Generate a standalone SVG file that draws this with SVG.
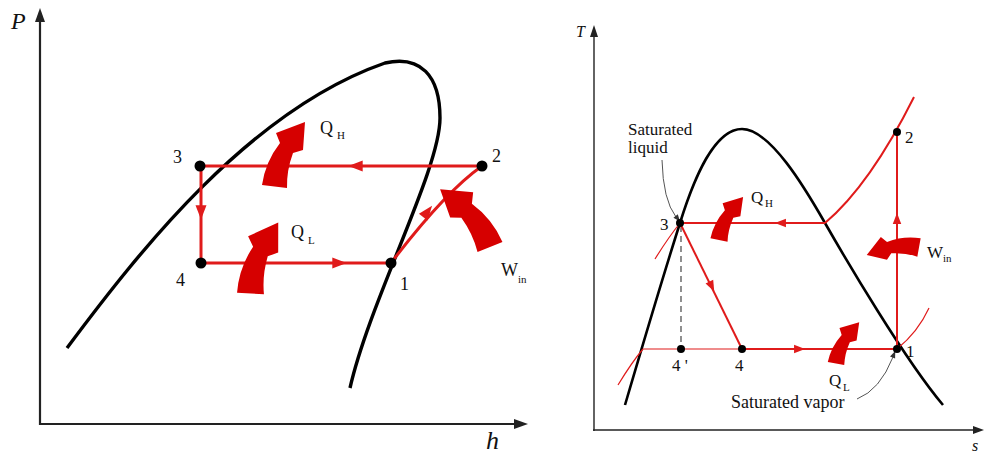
<svg xmlns="http://www.w3.org/2000/svg" xmlns:xlink="http://www.w3.org/1999/xlink" width="984" height="456" viewBox="0 0 984 456">
<style>
text{font-family:"Liberation Serif","Times New Roman",serif;fill:#111}
.ax{stroke:#222;stroke-width:2.2;fill:none}
.axr{stroke:#222;stroke-width:1.4;fill:none}
.dome{stroke:#000;stroke-width:3.4;fill:none}
.domer{stroke:#000;stroke-width:2.6;fill:none}
.cyc{stroke:#e01b1b;stroke-width:3;fill:none}
.cycr{stroke:#e01b1b;stroke-width:2;fill:none}
.thin{stroke:#e01b1b;stroke-width:1.2;fill:none}
.lead{stroke:#555;stroke-width:1;fill:none}
.fat{fill:#d60000}
.ahd{fill:#e01b1b}
.lbl{font-size:18px}
.lblr{font-size:17px}
.sub{font-size:11px}
</style>
<defs>
<path id="fatArrow" d="M -12.5,-1.5 Q -9,-25 5.5,-43.5 L 1.5,-53.5 L 30.5,-64.5 L 28.5,-36.5 L 18.5,-33.5 Q 12,-16 12.5,1.5 Z"/>
<path id="ah" d="M6,0 L-7,-5 L-7,5 Z"/>
</defs>

<g id="left-axes">
<line class="ax" x1="40" y1="425" x2="40" y2="18"/>
<polygon points="40,8 35,22 45,22" fill="#222"/>
<line class="ax" x1="39" y1="424" x2="518" y2="424"/>
<polygon points="528,424 514,419 514,429" fill="#222"/>
<text x="11" y="29" style="font-size:24px;font-style:italic">P</text>
<text x="486" y="449" style="font-size:26px;font-style:italic">h</text>
</g>

<g id="left-dome">
<path class="dome" d="M67,348 C140,250 250,110 385,63 C420,55 440,75 440,118 C440,170 370,300 350,388"/>
</g>

<g id="left-connectors">
<line class="cyc" x1="200" y1="166" x2="482" y2="166"/>
<line class="cyc" x1="201" y1="166" x2="201" y2="263"/>
<line class="cyc" x1="201" y1="263" x2="391" y2="263"/>
<path class="cyc" d="M391,263 Q445,192 482,166"/>
<use href="#ah" class="ahd" transform="translate(355,166) rotate(180) scale(1.1)"/>
<use href="#ah" class="ahd" transform="translate(201,213) rotate(90) scale(1.1)"/>
<use href="#ah" class="ahd" transform="translate(340,263) scale(1.1)"/>
<use href="#ah" class="ahd" transform="translate(428,211) rotate(-52) scale(1.1)"/>
</g>

<g id="left-node-3"><circle cx="200" cy="166" r="5.5"/><text class="lbl" x="173" y="163">3</text></g>
<g id="left-node-2"><circle cx="482" cy="166" r="5.5"/><text class="lbl" x="492" y="162">2</text></g>
<g id="left-node-4"><circle cx="201" cy="263" r="5.5"/><text class="lbl" x="176" y="286">4</text></g>
<g id="left-node-1"><circle cx="391" cy="263" r="5.5"/><text class="lbl" x="400" y="290">1</text></g>

<g id="left-QH">
<use href="#fatArrow" class="fat" transform="translate(274.5,186.5)"/>
<text class="lbl" x="320" y="134">Q</text><text class="sub" x="337" y="139">H</text>
</g>
<g id="left-QL">
<use href="#fatArrow" class="fat" transform="translate(250.5,293.5) rotate(-4) scale(1.07)"/>
<text class="lbl" x="291" y="238">Q</text><text class="sub" x="308" y="244">L</text>
</g>
<g id="left-Win">
<use href="#fatArrow" class="fat" transform="translate(490,247) rotate(-15.5) scale(-1.07,1.07)"/>
<text class="lbl" x="501" y="276">W</text><text class="sub" x="518" y="283">in</text>
</g>

<g id="right-axes">
<line class="axr" x1="594" y1="431" x2="594" y2="34"/>
<polygon points="594,25 590,37 598,37" fill="#222"/>
<line class="axr" x1="593" y1="430" x2="976" y2="430"/>
<polygon points="984,430 973,426 973,434" fill="#222"/>
<text x="576" y="37" style="font-size:16px;font-style:italic">T</text>
<text x="972" y="451" style="font-size:16px;font-style:italic">s</text>
</g>

<g id="right-dome">
<path class="domer" d="M625,405 C650,320 665,270 680,223 C695,175 715,129 742,129 C770,129 805,188 825,223 C845,258 905,360 943,405"/>
</g>

<g id="right-connectors">
<path class="thin" d="M655,259 Q668,238 680,223"/>
<path class="thin" d="M618,385 Q632,362 643,349"/>
<path class="thin" d="M897,349 Q918,332 929,308"/>
<line class="thin" x1="643" y1="349" x2="742" y2="349"/>
<line x1="681" y1="226" x2="681" y2="349" stroke="#555" stroke-width="1.3" stroke-dasharray="6,4"/>
<line class="cycr" x1="680" y1="223" x2="825" y2="223"/>
<path class="cycr" d="M825,223 Q870,185 914,97"/>
<line class="cycr" x1="897" y1="349" x2="897" y2="132"/>
<line class="cycr" x1="680" y1="223" x2="742" y2="349"/>
<line class="cycr" x1="742" y1="349" x2="897" y2="349"/>
<use href="#ah" class="ahd" transform="translate(780,223) rotate(180) scale(0.85)"/>
<use href="#ah" class="ahd" transform="translate(897,218) rotate(-90) scale(0.85)"/>
<use href="#ah" class="ahd" transform="translate(712,287) rotate(63.8) scale(0.85)"/>
<use href="#ah" class="ahd" transform="translate(800,349) scale(0.85)"/>
<path class="lead" d="M662,160 Q663,200 676,217"/>
<use href="#ah" fill="#333" transform="translate(678,219) rotate(52) scale(0.55)"/>
<path class="lead" d="M857,399 Q880,390 893,357"/>
<use href="#ah" fill="#333" transform="translate(894,354) rotate(-68) scale(0.55)"/>
</g>

<g id="right-node-3"><circle cx="680" cy="223" r="4"/><text class="lblr" x="660" y="230">3</text></g>
<g id="right-node-2"><circle cx="897" cy="132" r="4"/><text class="lblr" x="905" y="143">2</text></g>
<g id="right-node-1"><circle cx="897" cy="349" r="4"/><text class="lblr" x="906" y="357">1</text></g>
<g id="right-node-4p"><circle cx="681" cy="349" r="4"/><text class="lblr" x="672" y="371">4 '</text></g>
<g id="right-node-4"><circle cx="742" cy="349" r="4"/><text class="lblr" x="735" y="371">4</text></g>

<g id="right-QH">
<use href="#fatArrow" class="fat" transform="translate(719,240) rotate(4) scale(0.69)"/>
<text class="lblr" x="751" y="203">Q</text><text class="sub" x="765" y="207">H</text>
</g>
<g id="right-QL">
<use href="#fatArrow" class="fat" transform="translate(836,363.5) rotate(4) scale(0.665)"/>
<text class="lblr" x="829" y="386">Q</text><text class="sub" x="843" y="391">L</text>
</g>
<g id="right-Win">
<use href="#fatArrow" class="fat" transform="translate(919,247.5) rotate(-72.9) scale(-0.74,0.74)"/>
<text class="lblr" x="927" y="258">W</text><text class="sub" x="943" y="262">in</text>
</g>

<g id="label-sat-liquid">
<text class="lblr" x="628" y="135">Saturated</text>
<text class="lblr" x="628" y="153">liquid</text>
</g>
<g id="label-sat-vapor">
<text class="lblr" x="731" y="408" style="font-size:18px">Saturated vapor</text>
</g>
</svg>
